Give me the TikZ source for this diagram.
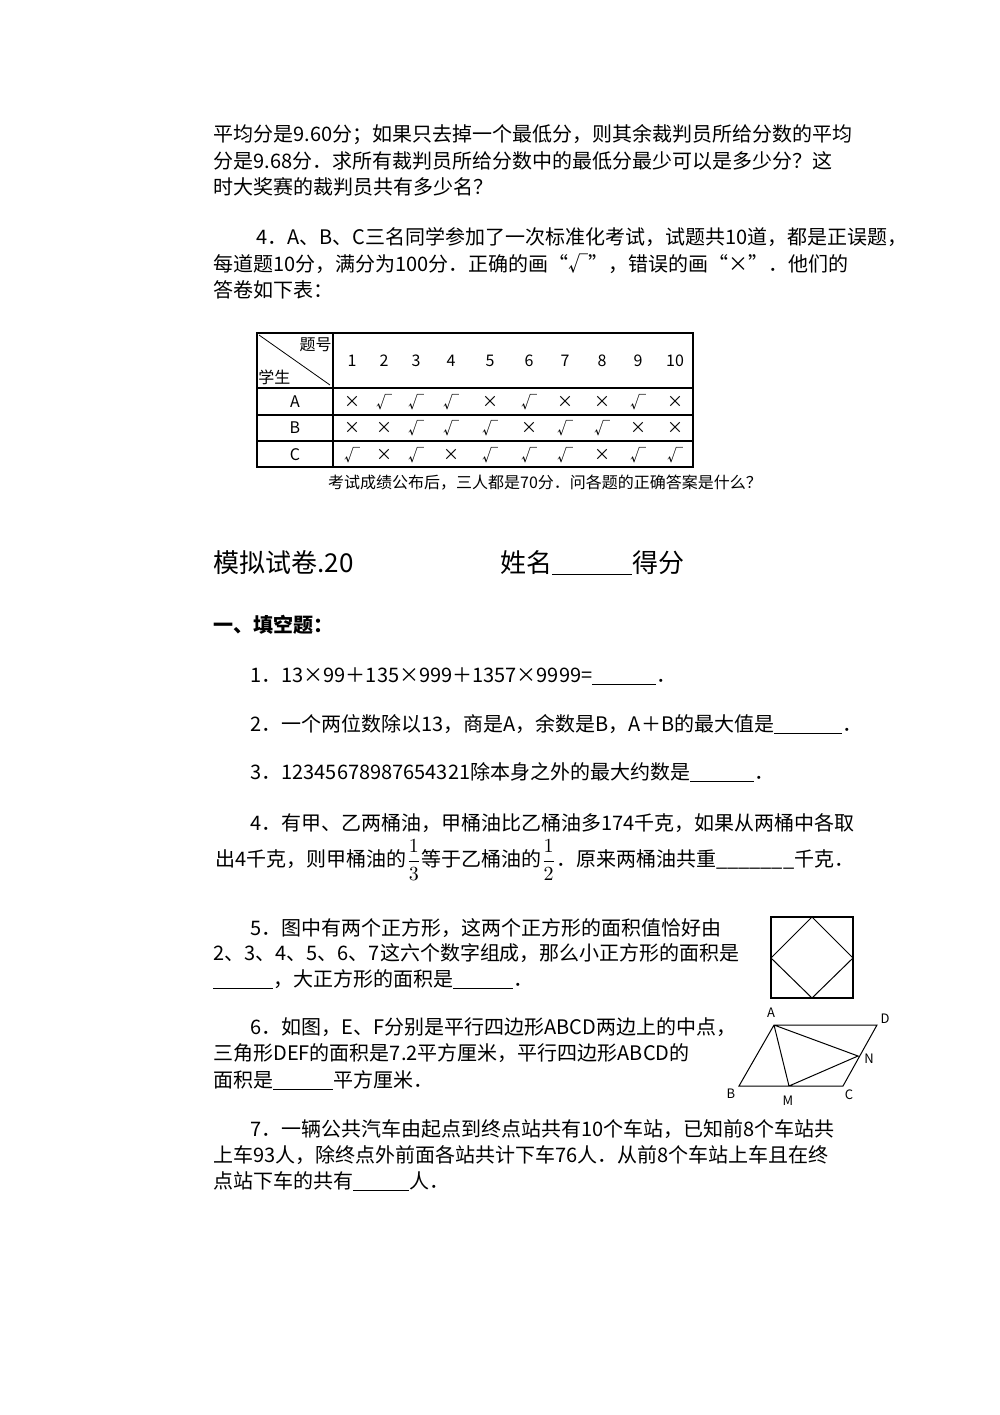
\documentclass[tikz,border=0pt]{standalone}
\usepackage{fontspec}
\setmainfont{Noto Sans CJK SC}
\begin{document}
\begin{tikzpicture}[x=0.5pt,y=-0.5pt,
  txt/.style={anchor=west,inner sep=0pt,font=\fontsize{10pt}{12pt}\selectfont},
  cell/.style={inner sep=0pt,font=\fontsize{8pt}{9pt}\selectfont},
  lbl/.style={inner sep=0pt,font=\fontsize{6.5pt}{7pt}\selectfont},
  fig/.style={line width=0.6pt}]
\useasboundingbox (0,0) rectangle (1000,1415);
\node[txt] (l1) at (213,135) {平均分是9.60分；如果只去掉一个最低分，则其余裁判员所给分数的平均};
\node[txt] (l2) at (213,161) {分是9.68分．求所有裁判员所给分数中的最低分最少可以是多少分？这};
\node[txt] (l3) at (213,187) {时大奖赛的裁判员共有多少名？};
\node[txt] (l4) at (256,237) {4．A、B、C三名同学参加了一次标准化考试，试题共10道，都是正误题，};
\node[txt] (l5) at (213,264) {每道题10分，满分为100分．正确的画“√”，错误的画“×”．他们的};
\node[txt] (l6) at (213,290) {答卷如下表：};
% table
\draw[fig] (257,333) rectangle (693,467);
\draw[fig] (257,388) -- (693,388) (257,415) -- (693,415) (257,441) -- (693,441) (333,333) -- (333,467);
\draw[line width=0.4pt] (259,335) -- (330,385);
\node[cell,anchor=north east] (th) at (332,337) {题号};
\node[cell,anchor=south west] (ts) at (258,385) {学生};
\foreach \x/\n in {352/1,384/2,416/3,451/4,490/5,529/6,565/7,602/8,638/9,675/10}
  \node[cell] (h\n) at (\x,361) {\n};
\node[cell] (rA) at (295,402) {A};
\node[cell] (rB) at (295,428) {B};
\node[cell] (rC) at (295,455) {C};
\def\xs{352,384,416,451,490,529,565,602,638,675}
\foreach \y/\r in {402/{×,√,√,√,×,√,×,×,√,×},428/{×,×,√,√,√,×,√,√,×,×},455/{√,×,√,×,√,√,√,×,√,√}}{
  \foreach \x [count=\i] in \xs {
    \foreach \m [count=\j] in \r { \ifnum\i=\j \node[cell] at (\x,\y) {\m}; \fi }
  }
}
\node[inner sep=0pt,font=\fontsize{8pt}{9pt}\selectfont] (cap) at (545,483) {考试成绩公布后，三人都是70分．问各题的正确答案是什么？};
\node[anchor=west,inner sep=0pt,font=\fontsize{13pt}{14pt}\selectfont] (title) at (213,563) {模拟试卷.20};
\node[anchor=west,inner sep=0pt,font=\fontsize{13pt}{14pt}\selectfont] (name) at (500,563) {姓名\rule[-1pt]{40pt}{0.5pt}得分};
\node[txt,font=\fontsize{10pt}{12pt}\selectfont\bfseries] (sec) at (213,625) {一、填空题：};
\node[txt] (q1) at (250,676) {1．13×99＋135×999＋1357×9999=\rule[-1pt]{32pt}{0.4pt}．};
\node[txt] (q2) at (250,724) {2．一个两位数除以13，商是A，余数是B，A＋B的最大值是\rule[-1pt]{34pt}{0.4pt}．};
\node[txt] (q3) at (250,772) {3．12345678987654321除本身之外的最大约数是\rule[-1pt]{32pt}{0.4pt}．};
\node[txt] (q4) at (250,823) {4．有甲、乙两桶油，甲桶油比乙桶油多174千克，如果从两桶中各取};
\node[txt] (q4b) at (215,860) {出4千克，则甲桶油的$\displaystyle\frac{1}{3}$等于乙桶油的$\displaystyle\frac{1}{2}$．原来两桶油共重\_\_\_\_\_\_\_千克．};
\node[txt] (q5) at (250,928) {5．图中有两个正方形，这两个正方形的面积值恰好由};
\node[txt] (q5b) at (213,953) {2、3、4、5、6、7这六个数字组成，那么小正方形的面积是};
\node[txt] (q5c) at (213,979) {\rule[-1pt]{30pt}{0.4pt}，大正方形的面积是\rule[-1pt]{30pt}{0.4pt}．};
\draw[fig] (771,917) rectangle (853,998);
\draw[line width=0.5pt] (812,917) -- (853,958) -- (812,998) -- (771,958) -- cycle;
\node[txt] (q6) at (250,1027) {6．如图，E、F分别是平行四边形ABCD两边上的中点，};
\node[txt] (q6b) at (213,1053) {三角形DEF的面积是7.2平方厘米，平行四边形ABCD的};
\node[txt] (q6c) at (213,1080) {面积是\rule[-1pt]{30pt}{0.4pt}平方厘米．};
\coordinate (A) at (774,1025); \coordinate (D) at (877,1025);
\coordinate (B) at (739,1086); \coordinate (C) at (843,1086);
\coordinate (M) at (789,1086); \coordinate (N) at (858,1056);
\draw[line width=0.5pt] (A) -- (D) -- (C) -- (B) -- cycle (A) -- (M) -- (N) -- (A);
\node[lbl] (la) at (771,1013) {A};
\node[lbl] (ld) at (885,1019) {D};
\node[lbl] (lb) at (731,1094) {B};
\node[lbl] (lc) at (849,1095) {C};
\node[lbl] (lm) at (788,1101) {M};
\node[lbl] (ln) at (869,1059) {N};
\node[txt] (q7) at (250,1129) {7．一辆公共汽车由起点到终点站共有10个车站，已知前8个车站共};
\node[txt] (q7b) at (213,1155) {上车93人，除终点外前面各站共计下车76人．从前8个车站上车且在终};
\node[txt] (q7c) at (213,1181) {点站下车的共有\rule[-1pt]{28pt}{0.4pt}人．};
\end{tikzpicture}
\end{document}
